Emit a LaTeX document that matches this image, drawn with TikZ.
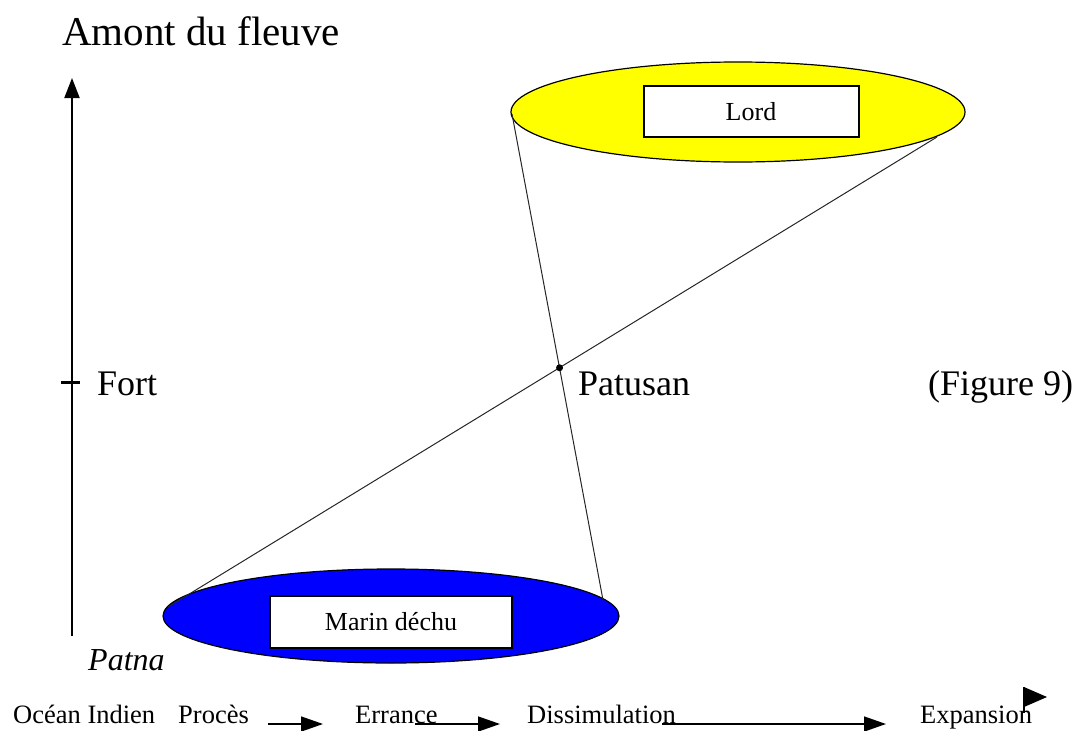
\documentclass[tikz,border=0pt]{standalone}
\usepackage{fontspec}
\setmainfont{Liberation Serif}
\usetikzlibrary{arrows.meta,shapes.geometric}
\definecolor{lordyellow}{RGB}{255,255,0}
\definecolor{marinblue}{RGB}{0,0,255}
\begin{document}
\begin{tikzpicture}[x=1pt,y=-1pt,
  biglbl/.style={inner sep=0pt, anchor=base west, font=\fontsize{36}{40}\selectfont},
  smalllbl/.style={inner sep=0pt, anchor=base west, font=\fontsize{26.5}{30}\selectfont},
  oval/.style={ellipse, draw=black, line width=1.2pt, inner sep=0pt},
  namebox/.style={draw=black, line width=2pt, fill=white, inner sep=0pt, font=\fontsize{26}{30}\selectfont},
  link/.style={draw=black!85, line width=1pt},
  flow/.style={line width=1.6pt, -{Triangle[length=22pt,width=15pt]}}
]
\useasboundingbox (0,0) rectangle (1074,731);

% title and axis
\node[biglbl, font=\fontsize{41}{45}\selectfont] (amont) at (62,45) {Amont du fleuve};
\coordinate (axbot) at (72,636);
\coordinate (axtop) at (72,78);
\draw[line width=2pt, -{Triangle[length=20pt,width=15pt]}] (axbot) -- (axtop);
\coordinate (ticka) at (61,382);
\coordinate (tickb) at (80,382);
\draw[line width=3pt] (ticka) -- (tickb);
\node[biglbl] (fort) at (97,395) {Fort};

% ellipses
\node[oval, fill=lordyellow, minimum width=454pt, minimum height=100pt] (lordoval) at (738,112) {};
\node[namebox, minimum width=215pt, minimum height=51pt] (lord) at (751,111.5) {Lord};
\node[oval, fill=marinblue, minimum width=456pt, minimum height=94pt] (marinoval) at (391,616) {};
\node[namebox, minimum width=242pt, minimum height=52pt] (marin) at (391,622) {Marin déchu};

% crossing lines
\coordinate (l1a) at (512,114);
\coordinate (l1b) at (603,600);
\coordinate (l2a) at (937,137);
\coordinate (l2b) at (168,607);
\draw[link] (l1a) -- (l1b);
\draw[link] (l2a) -- (l2b);
\coordinate (pat) at (intersection of l1a--l1b and l2a--l2b);
\fill (pat) circle (3.5pt);
\node[biglbl] (patusan) at (578,395) {Patusan};
\node[biglbl] (fig) at (928,395) {(Figure 9)};

\node[biglbl, font=\fontsize{32}{36}\selectfont\itshape] (patna) at (88,670) {Patna};

% bottom row
\node[smalllbl] (ocean) at (13,723) {Océan Indien};
\node[smalllbl] (proces) at (178,723) {Procès};
\node[smalllbl] (errance) at (355,723) {Errance};
\node[smalllbl] (dissim) at (527,723) {Dissimulation};
\node[smalllbl] (expan) at (920,723) {Expansion};

\coordinate (f1a) at (268,724);
\coordinate (f1b) at (323,724);
\coordinate (f2a) at (415,724);
\coordinate (f2b) at (500,724);
\coordinate (f3a) at (662,724);
\coordinate (f3b) at (886,724);
\draw[flow] (f1a) -- (f1b);
\draw[flow] (f2a) -- (f2b);
\draw[flow] (f3a) -- (f3b);

\coordinate (f4a) at (1024,713);
\coordinate (f4b) at (1024,687);
\coordinate (f4c) at (1047,697);
\coordinate (f4d) at (1024,707);
\draw[line width=2pt] (f4a) -- (f4b);
\fill (f4b) -- (f4c) -- (f4d) -- cycle;
\end{tikzpicture}
\end{document}
